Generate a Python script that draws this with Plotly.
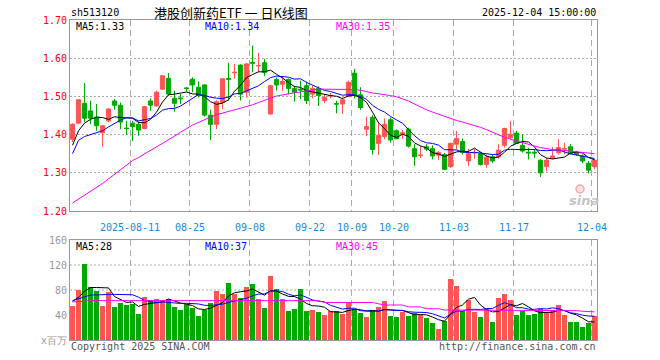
import plotly.graph_objects as go
import pandas as pd

# ---------------- data ----------------
opens = [1.388, 1.430, 1.482, 1.462, 1.446, 1.405, 1.436, 1.488, 1.477, 1.417,
         1.430, 1.427, 1.416, 1.488, 1.475, 1.519, 1.547, 1.495, 1.496, 1.522,
         1.545, 1.524, 1.530, 1.451, 1.427, 1.484, 1.547, 1.562, 1.582, 1.511,
         1.589, 1.580, 1.588, 1.454, 1.544, 1.532, 1.544, 1.521, 1.519, 1.528,
         1.506, 1.521, 1.489, 1.501, 1.481, 1.480, 1.500, 1.561, 1.504, 1.414,
         1.445, 1.377, 1.395, 1.439, 1.410, 1.401, 1.414, 1.363, 1.345, 1.368,
         1.363, 1.346, 1.348, 1.316, 1.375, 1.382, 1.331, 1.352, 1.350, 1.322,
         1.342, 1.342, 1.372, 1.392, 1.404, 1.372, 1.354, 1.354, 1.333, 1.316,
         1.339, 1.353, 1.362, 1.368, 1.353, 1.344, 1.325, 1.316]
highs = [1.430, 1.493, 1.535, 1.489, 1.480, 1.425, 1.469, 1.493, 1.484, 1.436,
         1.436, 1.434, 1.475, 1.495, 1.515, 1.556, 1.561, 1.515, 1.506, 1.524,
         1.550, 1.539, 1.532, 1.465, 1.490, 1.548, 1.588, 1.585, 1.584, 1.587,
         1.633, 1.614, 1.598, 1.530, 1.550, 1.553, 1.547, 1.528, 1.541, 1.539,
         1.528, 1.526, 1.506, 1.509, 1.489, 1.497, 1.541, 1.572, 1.524, 1.447,
         1.451, 1.432, 1.442, 1.445, 1.414, 1.412, 1.418, 1.375, 1.370, 1.375,
         1.372, 1.357, 1.352, 1.379, 1.410, 1.390, 1.363, 1.363, 1.353, 1.348,
         1.348, 1.375, 1.418, 1.436, 1.410, 1.401, 1.366, 1.362, 1.335, 1.339,
         1.368, 1.388, 1.379, 1.375, 1.357, 1.348, 1.331, 1.335]
lows = [1.380, 1.428, 1.433, 1.427, 1.410, 1.368, 1.433, 1.465, 1.414, 1.399,
        1.383, 1.397, 1.414, 1.462, 1.473, 1.517, 1.502, 1.460, 1.480, 1.512,
        1.511, 1.497, 1.447, 1.386, 1.414, 1.467, 1.489, 1.546, 1.489, 1.497,
        1.563, 1.563, 1.553, 1.452, 1.515, 1.515, 1.506, 1.486, 1.493, 1.480,
        1.495, 1.475, 1.482, 1.495, 1.456, 1.454, 1.498, 1.495, 1.465, 1.396,
        1.348, 1.346, 1.388, 1.379, 1.388, 1.388, 1.366, 1.318, 1.339, 1.357,
        1.335, 1.333, 1.307, 1.313, 1.361, 1.348, 1.318, 1.337, 1.319, 1.313,
        1.326, 1.337, 1.366, 1.388, 1.375, 1.353, 1.335, 1.339, 1.289, 1.304,
        1.337, 1.348, 1.348, 1.348, 1.344, 1.325, 1.298, 1.309]
closes = [1.427, 1.491, 1.443, 1.443, 1.423, 1.423, 1.467, 1.477, 1.433, 1.416,
          1.421, 1.412, 1.473, 1.477, 1.511, 1.554, 1.506, 1.482, 1.494, 1.521,
          1.530, 1.502, 1.451, 1.427, 1.486, 1.546, 1.545, 1.563, 1.506, 1.585,
          1.587, 1.581, 1.563, 1.528, 1.530, 1.539, 1.521, 1.511, 1.517, 1.489,
          1.521, 1.502, 1.497, 1.502, 1.480, 1.491, 1.537, 1.504, 1.471, 1.421,
          1.361, 1.398, 1.427, 1.386, 1.389, 1.405, 1.370, 1.342, 1.346, 1.362,
          1.344, 1.353, 1.309, 1.377, 1.390, 1.353, 1.350, 1.353, 1.322, 1.341,
          1.331, 1.359, 1.416, 1.401, 1.377, 1.357, 1.352, 1.352, 1.300, 1.333,
          1.344, 1.366, 1.363, 1.351, 1.348, 1.331, 1.307, 1.333]
volumes = [54.6, 80.3, 122, 84.5, 78.6, 54.6, 77, 53, 60, 56,
           58, 42, 69, 64, 66, 64, 65, 53, 48, 58,
           51, 39, 48, 59, 79, 74, 92, 74, 67, 85,
           90, 66, 51, 103, 82, 66, 47, 50, 82, 47,
           48, 45, 40, 47, 47, 42, 60, 50, 43, 37,
           47, 53, 63, 38.5, 37, 45, 38.5, 43, 40, 35,
           27, 17.7, 30.5, 98, 87, 47, 64, 45, 37, 50,
           29, 67, 74, 64, 40, 47, 40, 42, 50, 43,
           47, 56, 40, 29, 29, 21, 27, 38.5]

# moving-average values that depend on days before the visible window
ma5_head = [1.372, 1.410, 1.430, 1.440]
ma10_head = [1.350, 1.385, 1.395, 1.400, 1.405, 1.410, 1.420, 1.430, 1.438]
ma30_price = [1.221, 1.231, 1.241, 1.251, 1.261, 1.272, 1.284, 1.296, 1.308, 1.320,
              1.332, 1.340, 1.349, 1.358, 1.367, 1.376, 1.386, 1.396, 1.406, 1.416,
              1.425, 1.432, 1.440, 1.446, 1.452, 1.457, 1.461, 1.465, 1.469, 1.473,
              1.478, 1.484, 1.490, 1.496, 1.501, 1.504, 1.507, 1.510, 1.513, 1.515,
              1.517, 1.519, 1.519, 1.519, 1.519, 1.519, 1.518, 1.518, 1.516, 1.512,
              1.509, 1.507, 1.505, 1.502, 1.499, 1.494, 1.488, 1.480, 1.472, 1.465,
              1.459, 1.453, 1.447, 1.441, 1.437, 1.433, 1.429, 1.424, 1.419, 1.413,
              1.406, 1.400, 1.393, 1.388, 1.383, 1.379, 1.375, 1.370, 1.366, 1.363,
              1.361, 1.360, 1.358, 1.357, 1.355, 1.353, 1.351, 1.350]
vol_ma5_head = [62, 68, 78, 84]
vol_ma10_head = [63, 66, 70, 72, 72, 73, 73, 73, 73]
vol_ma30 = [61, 61, 62, 63, 63, 63, 63, 63, 63, 63,
            63, 63, 63, 63, 63, 63, 63, 63, 63, 63,
            63, 63, 63, 63, 63, 63, 63, 63, 63, 63,
            63, 63, 63, 63, 63, 63, 63, 63, 63, 63,
            63, 63, 60, 60, 60, 60, 60, 60, 60, 60,
            60, 58, 56, 56, 56, 56, 53, 53, 53, 50,
            50, 50, 48, 48, 48, 48, 48, 48, 48, 48,
            48, 48, 48, 48, 48, 47, 47, 47, 47, 47,
            47, 47, 47, 47, 47, 46, 45, 45]

tick_idx = [10, 20, 30, 40, 47, 54, 64, 74, 87]
tick_labels = ["2025-08-11", "08-25", "09-08", "09-22", "10-09", "10-20", "11-03", "11-17", "12-04"]
price_ticks = [1.20, 1.30, 1.40, 1.50, 1.60, 1.70]
vol_ticks = [0, 40, 80, 120, 160]
vol_tick_text = ["x百万", "40", "80", "120", "160"]

# ---------------- derived ----------------
n = len(closes)
x = list(range(n))
cs = pd.Series(closes)
ma5 = cs.rolling(5).mean().tolist()
ma5[:len(ma5_head)] = ma5_head
ma10 = cs.rolling(10).mean().tolist()
ma10[:len(ma10_head)] = ma10_head
vs = pd.Series(volumes)
vma5 = vs.rolling(5).mean().tolist()
vma5[:len(vol_ma5_head)] = vol_ma5_head
vma10 = vs.rolling(10).mean().tolist()
vma10[:len(vol_ma10_head)] = vol_ma10_head

RED = "#FF5555"
GREEN = "#00A800"
up = [c >= o for o, c in zip(opens, closes)]
vcolors = [RED if u else GREEN for u in up]

W, H = 660, 360
L, R, T, B = 70, 63, 20, 20
ph = H - T - B
main_dom = [(H - B - 211) / ph, 1.0]
vol_dom = [0.0, (H - B - 240) / ph]
OFF = 0.42
MONO = "DejaVu Sans Mono"

fig = go.Figure()
fig.add_trace(go.Candlestick(
    x=x, open=opens, high=highs, low=lows, close=closes,
    increasing=dict(line=dict(color=RED, width=1), fillcolor=RED),
    decreasing=dict(line=dict(color=GREEN, width=1), fillcolor=GREEN),
    whiskerwidth=0, xaxis="x", yaxis="y", hoverinfo="skip"))
for ys, col in [(ma5, "black"), (ma10, "#0000FF"), (ma30_price, "#FF00FF")]:
    fig.add_trace(go.Scatter(x=x, y=ys, mode="lines", line=dict(color=col, width=1),
                             xaxis="x", yaxis="y", hoverinfo="skip"))
fig.add_trace(go.Bar(x=x, y=volumes, marker=dict(color=vcolors, line=dict(width=0)),
                     width=0.82, xaxis="x2", yaxis="y2", hoverinfo="skip"))
for ys, col in [(vma5, "black"), (vma10, "#0000FF"), (vol_ma30, "#FF00FF")]:
    fig.add_trace(go.Scatter(x=x, y=ys, mode="lines", line=dict(color=col, width=1),
                             xaxis="x2", yaxis="y2", hoverinfo="skip"))

grid_x = [t - OFF for t in tick_idx]
xcommon = dict(range=[-OFF, n - 1 + OFF], tickvals=grid_x, showgrid=True,
               gridcolor="#AAAAAA", griddash="6px,4px", gridwidth=1, zeroline=False,
               showline=True, linecolor="#999999", linewidth=1, mirror=True, ticks="")

fig.update_layout(
    width=W, height=H, margin=dict(l=L, r=R, t=T, b=B),
    paper_bgcolor="white", plot_bgcolor="white", showlegend=False,
    boxgap=0.3, boxgroupgap=0,
    xaxis=dict(domain=[0, 1], anchor="y", ticktext=tick_labels,
               tickfont=dict(family=MONO, size=10, color="#1A8AD4"),
               ticklabelstandoff=7, rangeslider=dict(visible=False), **xcommon),
    xaxis2=dict(domain=[0, 1], anchor="y2", matches="x", showticklabels=False, **xcommon),
    yaxis=dict(domain=main_dom, anchor="x", range=[1.20, 1.70], tickvals=price_ticks,
               ticktext=["%.2f" % v for v in price_ticks],
               tickfont=dict(family=MONO, size=10, color="#FF0000"),
               showgrid=True, gridcolor="#AAAAAA", griddash="2px,2px", zeroline=False,
               showline=True, linecolor="#999999", linewidth=1, mirror=True, ticks=""),
    yaxis2=dict(domain=vol_dom, anchor="x2", range=[0, 160], tickvals=vol_ticks,
                ticktext=vol_tick_text,
                tickfont=dict(family=MONO, size=10, color="#999999"),
                showgrid=False, zeroline=False,
                showline=True, linecolor="#999999", linewidth=1, mirror=True, ticks=""),
    bargap=0,
)

for v in [80, 120]:
    fig.add_shape(type="line", xref="x2 domain", yref="y2", x0=0, x1=1, y0=v, y1=v,
                  line=dict(color="#AAAAAA", width=1, dash="2px,2px"), layer="below")


def px_x(p):
    return (p - L) / (W - L - R)


def px_y(p):
    return (H - B - p) / ph


def ann(text, xp, yp, color="black", size=10, family=MONO, xanchor="left", **kw):
    fig.add_annotation(text=text, x=px_x(xp), y=px_y(yp), xref="paper", yref="paper",
                       showarrow=False, xanchor=xanchor, yanchor="middle",
                       font=dict(family=family, size=size, color=color, **kw))


ann("sh513120", 69, 12.5)
ann("港股创新药ETF 一 日K线图", 230.5, 12.5, size=13, family="Noto Sans CJK SC", xanchor="center")
ann("2025-12-04 15:00:00", 598, 12.5, xanchor="right")
ann("MA5:1.33", 74, 26.5)
ann("MA10:1.34", 203, 26.5, color="#0000FF")
ann("MA30:1.35", 334, 26.5, color="#FF00FF")
ann("MA5:28", 74, 246.5)
ann("MA10:37", 203, 246.5, color="#0000FF")
ann("MA30:45", 334, 246.5, color="#FF00FF")
ann("Copyright 2025 SINA.COM", 69, 346, color="#555555")
ann("http://finance.sina.com.cn", 598, 346, color="#555555", xanchor="right")
ann("sina", 584, 200, color="#C4C4C4", size=13, family="DejaVu Sans", xanchor="center",
    style="italic", weight="bold")

# small pink "eye" of the watermark logo (a graphic, not text)
fig.add_shape(type="circle", xref="paper", yref="paper",
              x0=px_x(576), x1=px_x(584), y0=px_y(193), y1=px_y(185),
              line=dict(color="#F4A8A8", width=1.5), fillcolor="rgba(244,168,168,0.35)")

fig.write_html("out.html", config={"displayModeBar": False},
               post_script="document.body.style.margin='0px';")
